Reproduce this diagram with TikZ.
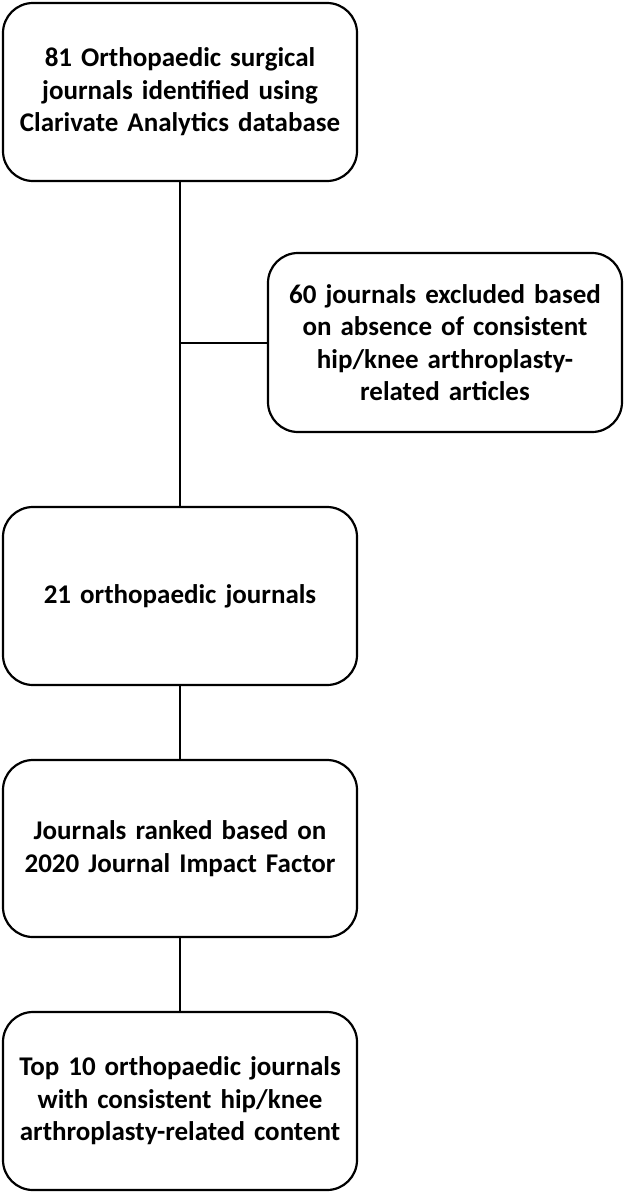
\documentclass[tikz,border=0pt]{standalone}
\usepackage{fontspec}
\setmainfont{Carlito}
\begin{document}
\begin{tikzpicture}[x=1pt,y=-1pt,
  flowbox/.style={draw=black,line width=2.2pt,rounded corners=30pt,fill=white,
    minimum width=354pt,text width=340pt,align=center,inner sep=0pt,
    font=\fontsize{27}{32.5}\selectfont\bfseries},
  link/.style={draw=black,line width=2pt}]
\useasboundingbox (0,0) rectangle (627,1194);
\node[flowbox,minimum height=178pt] (a) at (180,92) {81 Orthopaedic surgical\\journals identified using\\Clarivate Analytics database};
\node[flowbox,minimum height=179pt] (b) at (445,342.5) {60 journals excluded based\\on absence of consistent\\hip/knee arthroplasty-\\related articles};
\node[flowbox,minimum height=178pt] (c) at (180,596) {21 orthopaedic journals};
\node[flowbox,minimum height=177pt] (d) at (180,848.5) {Journals ranked based on\\2020 Journal Impact Factor};
\node[flowbox,minimum height=178pt] (e) at (180,1101) {Top 10 orthopaedic journals\\with consistent hip/knee\\arthroplasty-related content};
\coordinate (j) at (a.south |- b.west);
\draw[link] (a.south) -- (c.north);
\draw[link] (j) -- (b.west);
\draw[link] (c.south) -- (d.north);
\draw[link] (d.south) -- (e.north);
\end{tikzpicture}
\end{document}
